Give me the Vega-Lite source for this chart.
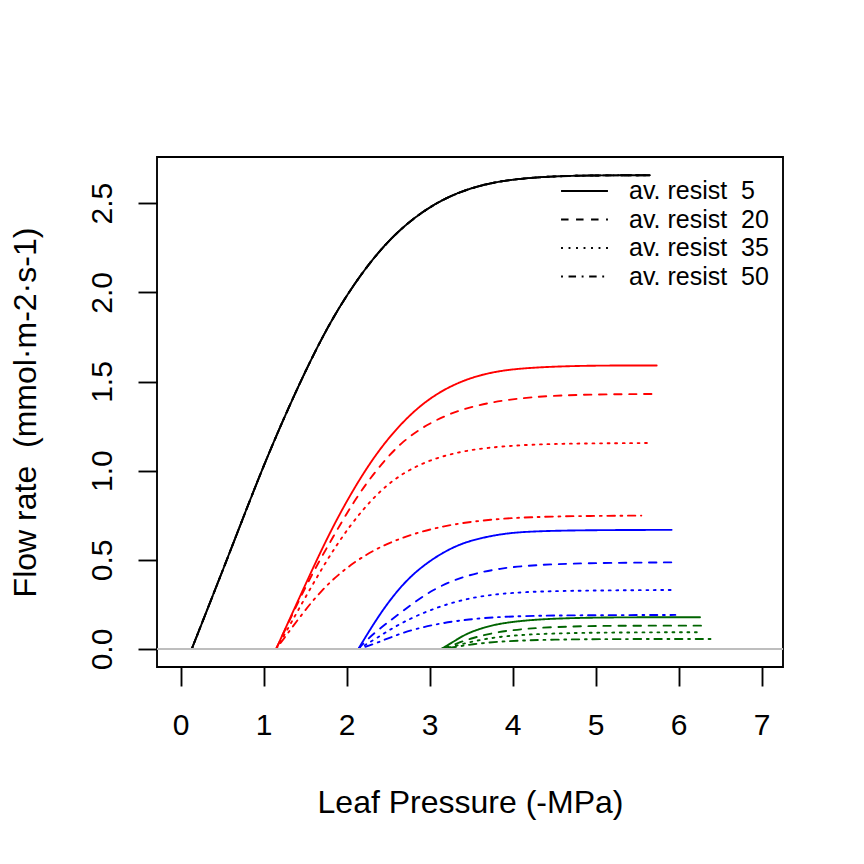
{
  "$schema": "https://vega.github.io/schema/vega-lite/v6.json",
  "width": 626,
  "height": 510,
  "autosize": {"type": "none"},
  "padding": {"left": 157, "top": 157, "right": 81, "bottom": 197},
  "background": "white",
  "config": {
    "view": {"stroke": "black", "strokeWidth": 1.875},
    "font": "Liberation Sans",
    "axis": {
      "domain": false, "grid": false,
      "tickColor": "black", "tickWidth": 1.875, "tickSize": 19,
      "labelColor": "black", "labelFontSize": 30, "labelFont": "Liberation Sans",
      "titleColor": "black", "titleFontSize": 32, "titleFontWeight": "normal", "titleFont": "Liberation Sans"
    }
  },
  "data": {
    "values": [
      {"g": "k", "r": 5, "p": 0.133, "f": 0}, {"g": "k", "r": 5, "p": 0.4, "f": 0.315}, {"g": "k", "r": 5, "p": 0.634, "f": 0.593}, {"g": "k", "r": 5, "p": 0.976, "f": 1.005}, {"g": "k", "r": 5, "p": 1.317, "f": 1.375}, {"g": "k", "r": 5, "p": 1.678, "f": 1.73}, {"g": "k", "r": 5, "p": 2.0, "f": 1.99}, {"g": "k", "r": 5, "p": 2.4, "f": 2.245}, {"g": "k", "r": 5, "p": 2.8, "f": 2.42}, {"g": "k", "r": 5, "p": 3.205, "f": 2.537}, {"g": "k", "r": 5, "p": 3.606, "f": 2.602}, {"g": "k", "r": 5, "p": 4.0, "f": 2.635}, {"g": "k", "r": 5, "p": 4.5, "f": 2.652}, {"g": "k", "r": 5, "p": 5.0, "f": 2.656}, {"g": "k", "r": 5, "p": 5.65, "f": 2.657},
      {"g": "k", "r": 20, "p": 0.133, "f": 0}, {"g": "k", "r": 20, "p": 0.4, "f": 0.315}, {"g": "k", "r": 20, "p": 0.634, "f": 0.593}, {"g": "k", "r": 20, "p": 0.976, "f": 1.005}, {"g": "k", "r": 20, "p": 1.317, "f": 1.375}, {"g": "k", "r": 20, "p": 1.678, "f": 1.73}, {"g": "k", "r": 20, "p": 2.0, "f": 1.99}, {"g": "k", "r": 20, "p": 2.4, "f": 2.245}, {"g": "k", "r": 20, "p": 2.8, "f": 2.42}, {"g": "k", "r": 20, "p": 3.205, "f": 2.537}, {"g": "k", "r": 20, "p": 3.606, "f": 2.602}, {"g": "k", "r": 20, "p": 4.0, "f": 2.635}, {"g": "k", "r": 20, "p": 4.5, "f": 2.652}, {"g": "k", "r": 20, "p": 5.0, "f": 2.656}, {"g": "k", "r": 20, "p": 5.65, "f": 2.657},
      {"g": "k", "r": 35, "p": 0.133, "f": 0}, {"g": "k", "r": 35, "p": 0.4, "f": 0.315}, {"g": "k", "r": 35, "p": 0.634, "f": 0.593}, {"g": "k", "r": 35, "p": 0.976, "f": 1.005}, {"g": "k", "r": 35, "p": 1.317, "f": 1.375}, {"g": "k", "r": 35, "p": 1.678, "f": 1.73}, {"g": "k", "r": 35, "p": 2.0, "f": 1.99}, {"g": "k", "r": 35, "p": 2.4, "f": 2.245}, {"g": "k", "r": 35, "p": 2.8, "f": 2.42}, {"g": "k", "r": 35, "p": 3.205, "f": 2.537}, {"g": "k", "r": 35, "p": 3.606, "f": 2.602}, {"g": "k", "r": 35, "p": 4.0, "f": 2.635}, {"g": "k", "r": 35, "p": 4.5, "f": 2.652}, {"g": "k", "r": 35, "p": 5.0, "f": 2.656}, {"g": "k", "r": 35, "p": 5.65, "f": 2.657},
      {"g": "k", "r": 50, "p": 0.133, "f": 0}, {"g": "k", "r": 50, "p": 0.4, "f": 0.315}, {"g": "k", "r": 50, "p": 0.634, "f": 0.593}, {"g": "k", "r": 50, "p": 0.976, "f": 1.005}, {"g": "k", "r": 50, "p": 1.317, "f": 1.375}, {"g": "k", "r": 50, "p": 1.678, "f": 1.73}, {"g": "k", "r": 50, "p": 2.0, "f": 1.99}, {"g": "k", "r": 50, "p": 2.4, "f": 2.245}, {"g": "k", "r": 50, "p": 2.8, "f": 2.42}, {"g": "k", "r": 50, "p": 3.205, "f": 2.537}, {"g": "k", "r": 50, "p": 3.606, "f": 2.602}, {"g": "k", "r": 50, "p": 4.0, "f": 2.635}, {"g": "k", "r": 50, "p": 4.5, "f": 2.652}, {"g": "k", "r": 50, "p": 5.0, "f": 2.656}, {"g": "k", "r": 50, "p": 5.65, "f": 2.657},

      {"g": "r", "r": 5, "p": 1.15, "f": 0}, {"g": "r", "r": 5, "p": 1.48, "f": 0.34}, {"g": "r", "r": 5, "p": 1.8, "f": 0.66}, {"g": "r", "r": 5, "p": 2.12, "f": 0.93}, {"g": "r", "r": 5, "p": 2.45, "f": 1.16}, {"g": "r", "r": 5, "p": 2.85, "f": 1.36}, {"g": "r", "r": 5, "p": 3.25, "f": 1.48}, {"g": "r", "r": 5, "p": 3.65, "f": 1.545}, {"g": "r", "r": 5, "p": 4.05, "f": 1.574}, {"g": "r", "r": 5, "p": 4.65, "f": 1.587}, {"g": "r", "r": 5, "p": 5.2, "f": 1.59}, {"g": "r", "r": 5, "p": 5.735, "f": 1.59},
      {"g": "r", "r": 20, "p": 1.15, "f": 0}, {"g": "r", "r": 20, "p": 1.52, "f": 0.37}, {"g": "r", "r": 20, "p": 1.8, "f": 0.6}, {"g": "r", "r": 20, "p": 2.1, "f": 0.84}, {"g": "r", "r": 20, "p": 2.35, "f": 1.0}, {"g": "r", "r": 20, "p": 2.65, "f": 1.16}, {"g": "r", "r": 20, "p": 3.0, "f": 1.27}, {"g": "r", "r": 20, "p": 3.35, "f": 1.34}, {"g": "r", "r": 20, "p": 3.7, "f": 1.38}, {"g": "r", "r": 20, "p": 4.05, "f": 1.405}, {"g": "r", "r": 20, "p": 4.45, "f": 1.42}, {"g": "r", "r": 20, "p": 5.0, "f": 1.428}, {"g": "r", "r": 20, "p": 5.706, "f": 1.43},
      {"g": "r", "r": 35, "p": 1.15, "f": 0}, {"g": "r", "r": 35, "p": 1.24, "f": 0.07}, {"g": "r", "r": 35, "p": 1.56, "f": 0.34}, {"g": "r", "r": 35, "p": 1.88, "f": 0.59}, {"g": "r", "r": 35, "p": 2.2, "f": 0.79}, {"g": "r", "r": 35, "p": 2.52, "f": 0.94}, {"g": "r", "r": 35, "p": 2.88, "f": 1.04}, {"g": "r", "r": 35, "p": 3.28, "f": 1.1}, {"g": "r", "r": 35, "p": 3.69, "f": 1.13}, {"g": "r", "r": 35, "p": 4.2, "f": 1.147}, {"g": "r", "r": 35, "p": 4.8, "f": 1.153}, {"g": "r", "r": 35, "p": 5.68, "f": 1.155},
      {"g": "r", "r": 50, "p": 1.15, "f": 0}, {"g": "r", "r": 50, "p": 1.32, "f": 0.107}, {"g": "r", "r": 50, "p": 1.68, "f": 0.33}, {"g": "r", "r": 50, "p": 2.08, "f": 0.49}, {"g": "r", "r": 50, "p": 2.48, "f": 0.593}, {"g": "r", "r": 50, "p": 2.88, "f": 0.658}, {"g": "r", "r": 50, "p": 3.28, "f": 0.7}, {"g": "r", "r": 50, "p": 3.73, "f": 0.727}, {"g": "r", "r": 50, "p": 4.2, "f": 0.74}, {"g": "r", "r": 50, "p": 4.8, "f": 0.746}, {"g": "r", "r": 50, "p": 5.55, "f": 0.748},

      {"g": "b", "r": 5, "p": 2.14, "f": 0}, {"g": "b", "r": 5, "p": 2.4, "f": 0.2}, {"g": "b", "r": 5, "p": 2.68, "f": 0.37}, {"g": "b", "r": 5, "p": 2.95, "f": 0.48}, {"g": "b", "r": 5, "p": 3.245, "f": 0.565}, {"g": "b", "r": 5, "p": 3.5, "f": 0.61}, {"g": "b", "r": 5, "p": 3.8, "f": 0.64}, {"g": "b", "r": 5, "p": 4.05, "f": 0.655}, {"g": "b", "r": 5, "p": 4.45, "f": 0.663}, {"g": "b", "r": 5, "p": 5.05, "f": 0.667}, {"g": "b", "r": 5, "p": 5.915, "f": 0.668},
      {"g": "b", "r": 20, "p": 2.14, "f": 0}, {"g": "b", "r": 20, "p": 2.3, "f": 0.08}, {"g": "b", "r": 20, "p": 2.64, "f": 0.2}, {"g": "b", "r": 20, "p": 3.04, "f": 0.34}, {"g": "b", "r": 20, "p": 3.45, "f": 0.415}, {"g": "b", "r": 20, "p": 3.85, "f": 0.453}, {"g": "b", "r": 20, "p": 4.25, "f": 0.471}, {"g": "b", "r": 20, "p": 4.85, "f": 0.482}, {"g": "b", "r": 20, "p": 5.94, "f": 0.486},
      {"g": "b", "r": 35, "p": 2.14, "f": 0}, {"g": "b", "r": 35, "p": 2.36, "f": 0.06}, {"g": "b", "r": 35, "p": 2.64, "f": 0.144}, {"g": "b", "r": 35, "p": 3.04, "f": 0.228}, {"g": "b", "r": 35, "p": 3.45, "f": 0.284}, {"g": "b", "r": 35, "p": 3.85, "f": 0.312}, {"g": "b", "r": 35, "p": 4.45, "f": 0.327}, {"g": "b", "r": 35, "p": 5.91, "f": 0.331},
      {"g": "b", "r": 50, "p": 2.14, "f": 0}, {"g": "b", "r": 50, "p": 2.36, "f": 0.032}, {"g": "b", "r": 50, "p": 2.64, "f": 0.088}, {"g": "b", "r": 50, "p": 3.04, "f": 0.138}, {"g": "b", "r": 50, "p": 3.45, "f": 0.166}, {"g": "b", "r": 50, "p": 3.85, "f": 0.181}, {"g": "b", "r": 50, "p": 4.45, "f": 0.189}, {"g": "b", "r": 50, "p": 5.96, "f": 0.191},

      {"g": "g", "r": 5, "p": 3.14, "f": 0}, {"g": "g", "r": 5, "p": 3.3, "f": 0.045}, {"g": "g", "r": 5, "p": 3.45, "f": 0.088}, {"g": "g", "r": 5, "p": 3.65, "f": 0.12}, {"g": "g", "r": 5, "p": 3.85, "f": 0.144}, {"g": "g", "r": 5, "p": 4.25, "f": 0.166}, {"g": "g", "r": 5, "p": 4.85, "f": 0.176}, {"g": "g", "r": 5, "p": 5.5, "f": 0.178}, {"g": "g", "r": 5, "p": 6.257, "f": 0.178},
      {"g": "g", "r": 20, "p": 3.14, "f": 0}, {"g": "g", "r": 20, "p": 3.3, "f": 0.025}, {"g": "g", "r": 20, "p": 3.49, "f": 0.06}, {"g": "g", "r": 20, "p": 3.89, "f": 0.105}, {"g": "g", "r": 20, "p": 4.49, "f": 0.125}, {"g": "g", "r": 20, "p": 5.2, "f": 0.131}, {"g": "g", "r": 20, "p": 6.29, "f": 0.131},
      {"g": "g", "r": 35, "p": 3.14, "f": 0}, {"g": "g", "r": 35, "p": 3.3, "f": 0.015}, {"g": "g", "r": 35, "p": 3.49, "f": 0.041}, {"g": "g", "r": 35, "p": 3.89, "f": 0.075}, {"g": "g", "r": 35, "p": 4.49, "f": 0.088}, {"g": "g", "r": 35, "p": 5.2, "f": 0.093}, {"g": "g", "r": 35, "p": 6.28, "f": 0.094},
      {"g": "g", "r": 50, "p": 3.14, "f": 0}, {"g": "g", "r": 50, "p": 3.3, "f": 0.01}, {"g": "g", "r": 50, "p": 3.49, "f": 0.026}, {"g": "g", "r": 50, "p": 3.89, "f": 0.045}, {"g": "g", "r": 50, "p": 4.49, "f": 0.053}, {"g": "g", "r": 50, "p": 5.2, "f": 0.056}, {"g": "g", "r": 50, "p": 6.45, "f": 0.056}
    ]
  },
  "layer": [
    {
      "mark": {"type": "line", "strokeWidth": 1.875, "interpolate": "basis", "strokeCap": "round"},
      "encoding": {
        "x": {
          "field": "p", "type": "quantitative",
          "scale": {"domain": [-0.2855, 7.257], "nice": false, "zero": false},
          "axis": {"values": [0, 1, 2, 3, 4, 5, 6, 7], "format": "d", "labelPadding": 24, "title": "Leaf Pressure (-MPa)", "titlePadding": 47}
        },
        "y": {
          "field": "f", "type": "quantitative",
          "scale": {"domain": [-0.101, 2.759], "nice": false, "zero": false},
          "axis": {"values": [0, 0.5, 1, 1.5, 2, 2.5], "format": ".1f", "labelAngle": 270, "labelAlign": "center", "labelBaseline": "alphabetic", "labelPadding": 27, "title": "Flow rate\u00a0\u00a0(mmol·m-2·s-1)", "titlePadding": 45}
        },
        "color": {
          "field": "g", "type": "nominal",
          "scale": {"domain": ["k", "r", "b", "g"], "range": ["black", "red", "blue", "#006400"]},
          "legend": null
        },
        "strokeDash": {
          "field": "r", "type": "ordinal",
          "scale": {"domain": [5, 20, 35, 50], "range": [[1, 0], [7.5, 7.5], [1.9, 5.6], [1.9, 5.6, 7.5, 5.6]]},
          "legend": {
            "title": null, "orient": "none", "legendX": 403, "legendY": 22, "padding": 0,
            "symbolType": "stroke", "symbolSize": 2200, "symbolStrokeWidth": 1.875, "symbolStrokeColor": "black",
            "clipHeight": 24,
            "labelFontSize": 25, "labelColor": "black", "labelOffset": 20, "rowPadding": 3.5,
            "labelExpr": "'av. resist\u00a0\u00a0' + datum.label"
          }
        }
      }
    },
    {
      "mark": {"type": "rule", "color": "#BEBEBE", "strokeWidth": 1.875},
      "encoding": {"y": {"datum": 0}}
    }
  ]
}
